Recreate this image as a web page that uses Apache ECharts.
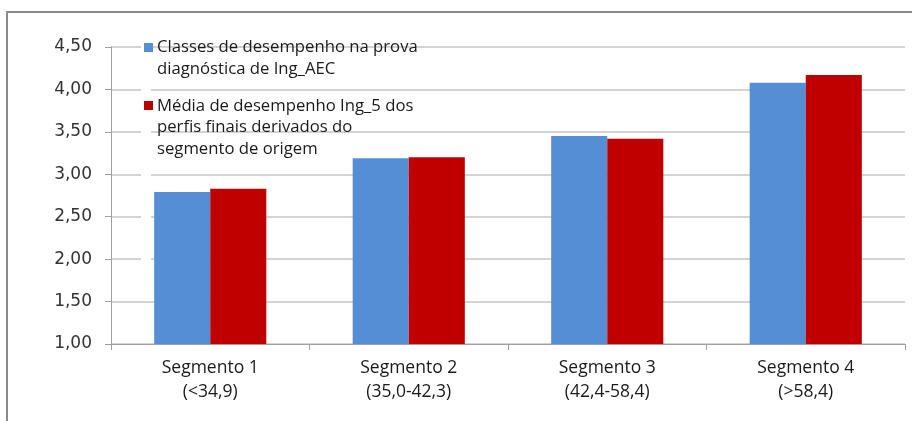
<!DOCTYPE html>
<html><head><meta charset="utf-8">
<script src="https://cdn.jsdelivr.net/npm/echarts@6/dist/echarts.min.js"></script>
<style>html,body{margin:0;padding:0;background:#fff}#c{width:912px;height:421px}</style>
</head><body><div id="c"></div>
<script>
const categories = ['Segmento 1\n(<34,9)', 'Segmento 2\n(35,0-42,3)', 'Segmento 3\n(42,4-58,4)', 'Segmento 4\n(>58,4)'];
const seriesNames = ['Classes de desempenho na prova\ndiagnóstica de Ing_AEC', 'Média de desempenho Ing_5 dos\nperfis finais derivados do\nsegmento de origem'];
const blueValues = [2.79, 3.19, 3.45, 4.08];
const redValues = [2.83, 3.20, 3.42, 4.17];
const yTicks = {min: 1, max: 4.5, interval: 0.5};

const chart = echarts.init(document.getElementById('c'), null, {renderer: 'canvas'});
const font = '"Open Sans", sans-serif';
chart.setOption({
  animation: false,
  grid: {left: 111, right: 7, top: 47, bottom: 77},
  xAxis: {
    type: 'category', data: categories,
    axisLine: {lineStyle: {color: '#a0a0a0', width: 1}},
    axisTick: {show: true, length: 6, lineStyle: {color: '#a0a0a0'}},
    axisLabel: {color: '#1a1a1a', fontSize: 17.5, fontFamily: font, lineHeight: 24, margin: 12}
  },
  yAxis: {
    type: 'value', min: yTicks.min, max: yTicks.max, interval: yTicks.interval,
    axisLine: {show: true, lineStyle: {color: '#a0a0a0'}},
    axisTick: {show: true, length: 6, lineStyle: {color: '#a0a0a0'}},
    splitLine: {lineStyle: {color: '#c4c4c4', width: 1.5}},
    axisLabel: {color: '#333', fontSize: 17, fontFamily: 'Tahoma, "DejaVu Sans", sans-serif', margin: 19,
      formatter: v => v.toFixed(2).replace('.', ',')}
  },
  series: [
    {name: seriesNames[0], type: 'bar', data: blueValues, barGap: '0%', barCategoryGap: '43.5%',
     itemStyle: {color: '#558ed5'}},
    {name: seriesNames[1], type: 'bar', data: redValues, barGap: '0%', barCategoryGap: '43.5%',
     itemStyle: {color: '#c00000'}}
  ],
  graphic: [
    {type: 'rect', shape: {x: 7, y: 12, width: 1000, height: 500}, style: {fill: null, stroke: '#8a8a8a', lineWidth: 2}, silent: true},
    {type: 'rect', shape: {x: 141, y: 39, width: 10, height: 250}, style: {fill: '#fff'}, z: 10},
    {type: 'rect', shape: {x: 144, y: 43, width: 9, height: 9}, style: {fill: '#558ed5'}, z: 11},
    {type: 'text', x: 157, y: 36, z: 11, style: {text: seriesNames[0], fill: '#1a1a1a', fontSize: 16.7, fontFamily: font, lineHeight: 22}},
    {type: 'rect', shape: {x: 144, y: 101, width: 9, height: 9}, style: {fill: '#c00000'}, z: 11},
    {type: 'text', x: 157, y: 95, z: 11, style: {text: seriesNames[1], fill: '#1a1a1a', fontSize: 16.7, fontFamily: font, lineHeight: 21.5}}
  ]
});
</script></body></html>
